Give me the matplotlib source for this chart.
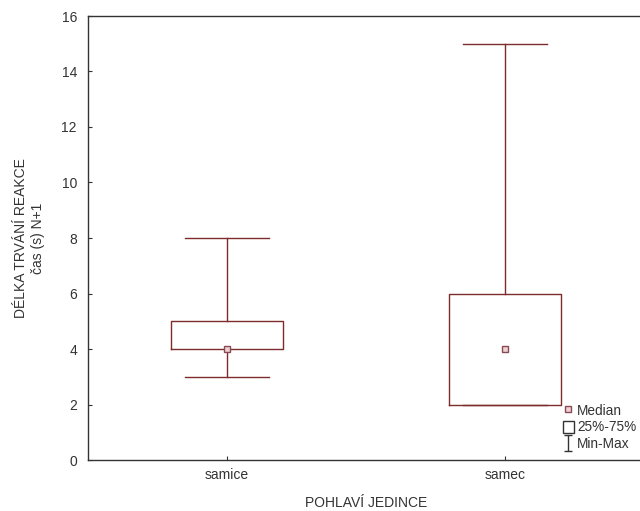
import matplotlib
matplotlib.use("Agg")
import matplotlib.pyplot as plt
from matplotlib.lines import Line2D
from matplotlib.patches import Patch
from matplotlib.path import Path

plt.rcParams['font.family'] = ['Liberation Sans', 'DejaVu Sans']

# Reaction duration summary by sex
groups = ["samice", "samec"]
minimum = [3, 2]
q1 = [4, 2]
median = [4, 4]
q3 = [5, 6]
maximum = [8, 15]

yticks = [0, 2, 4, 6, 8, 10, 12, 14, 16]

line_col = "#7d2b2b"
text_col = "#333333"

fig = plt.figure(figsize=(6.4, 5.11), dpi=100)
ax = fig.add_axes([88 / 640, 51 / 511, 556 / 640, 444 / 511])

positions = list(range(1, len(groups) + 1))
stats = [
    dict(med=m, q1=a, q3=b, whislo=lo, whishi=hi, fliers=[])
    for m, a, b, lo, hi in zip(median, q1, q3, minimum, maximum)
]
ax.bxp(stats, positions=positions, widths=0.4, capwidths=0.3,
       showfliers=False,
       boxprops=dict(color=line_col, linewidth=1.0),
       whiskerprops=dict(color=line_col, linewidth=1.0),
       capprops=dict(color=line_col, linewidth=1.0),
       medianprops=dict(linestyle='none'))
ax.plot(positions, median, linestyle='none', marker='s', markersize=4.5,
        markerfacecolor='#ecd2d2', markeredgecolor='#8a4a55',
        markeredgewidth=1.0, zorder=5)

ax.set_xlim(0.5, len(groups) + 0.5)
ax.set_ylim(0, 16)
ax.set_yticks(yticks)
ax.set_xticks(positions)
ax.set_xticklabels(groups)
ax.tick_params(axis='both', direction='in', length=3, width=0.8,
               colors=text_col, labelsize=10, labelcolor=text_col)
ax.tick_params(axis='y', pad=8)
ax.tick_params(axis='x', pad=6)
for side in ax.spines.values():
    side.set_color(text_col)
    side.set_linewidth(1.0)

ax.set_ylabel("DÉLKA TRVÁNÍ REAKCE\nčas (s) N+1", fontsize=10,
              color=text_col, labelpad=12, linespacing=1.25)
ax.set_xlabel("POHLAVÍ JEDINCE", fontsize=10, color=text_col, labelpad=10)

# I-beam marker for the range entry
ibeam = Path([(-0.5, 1), (0.5, 1), (0, 1), (0, -1), (-0.5, -1), (0.5, -1)],
             [Path.MOVETO, Path.LINETO, Path.MOVETO, Path.LINETO,
              Path.MOVETO, Path.LINETO])
handles = [
    Line2D([], [], linestyle='none', marker='s', markersize=4,
           markerfacecolor='#ecd2d2', markeredgecolor='#8a4a55'),
    Patch(facecolor='white', edgecolor='#333333', linewidth=1.0),
    Line2D([], [], linestyle='none', marker=ibeam, markersize=12,
           markeredgecolor='#333333', markerfacecolor='none',
           markeredgewidth=1.0),
]
labels = ["Median", "25%-75%", "Min-Max"]
leg = ax.legend(handles, labels, loc='lower left',
                bbox_to_anchor=(556 / 640, 53 / 511),
                bbox_transform=fig.transFigure,
                frameon=False, fontsize=9.8, handlelength=0.8,
                handleheight=1.05, handletextpad=0.25, labelspacing=0.2,
                borderpad=0.0)
for t in leg.get_texts():
    t.set_color(text_col)

fig.savefig("out.png", dpi=100)
